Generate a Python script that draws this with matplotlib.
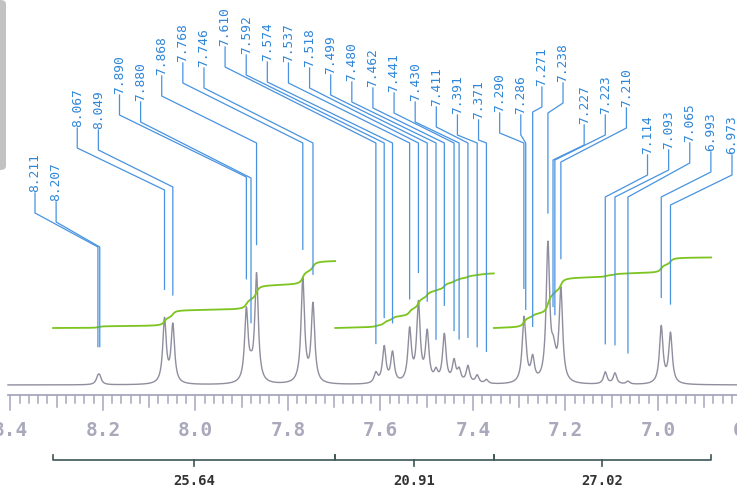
import numpy as np
import matplotlib.pyplot as plt
from matplotlib.patches import FancyBboxPatch

## Picos del espectro (ppm) y su altura aproximada
peak_ppm = [8.211, 8.207, 8.067, 8.049, 7.890, 7.880, 7.868, 7.768, 7.746,
            7.610, 7.592, 7.574, 7.537, 7.518, 7.499, 7.480, 7.462, 7.441,
            7.430, 7.411, 7.391, 7.371, 7.290, 7.286, 7.271, 7.238, 7.227,
            7.223, 7.210, 7.114, 7.093, 7.065, 6.993, 6.973]
peak_height = [6.5, 6.5, 64, 58, 72, 8, 108, 104, 78,
               10, 36, 30, 52, 78, 49, 10, 48, 21,
               12, 17, 8, 4, 60, 10, 23, 137, 18,
               10, 92, 12, 11, 3, 57, 50]

## Integrales: desde, hasta, valor
int_from = [8.308, 7.698, 7.355]
int_to = [7.698, 7.355, 6.885]
int_value = [25.64, 20.91, 27.02]

## Etiquetas del eje
tick_major = [8.4, 8.2, 8.0, 7.8, 7.6, 7.4, 7.2, 7.0, 6.8]

## Disposicion (pixeles de la imagen)
W, H = 737, 490
label_bottom = [193, 202, 128, 130, 95, 102, 76, 63, 68,
                47, 55, 62, 63, 68, 75, 82, 88, 93,
                102, 107, 115, 120, 113, 115, 87, 83, 125,
                115, 108, 155, 150, 143, 152, 155]
elbow = [247, 247, 190, 187, 177, 178, 143, 143, 143,
         143, 143, 143, 143, 143, 143, 143, 143, 143,
         143, 143, 143, 143, 143, 143, 112, 113, 160,
         160, 162, 197, 197, 197, 197, 205]


def ppm(px):
    return 8.2 + (103 - px) / 462.5


def yy(py):
    return 385 - py


gamma = 2.1 / 462.5


def spec(x):
    x = np.asarray(x, dtype=float)
    s = np.zeros_like(x)
    for p, h in zip(peak_ppm, peak_height):
        s += h / (1 + ((x - p) / gamma) ** 2)
    return s


fig = plt.figure(figsize=(W / 100, H / 100), dpi=100)
ax = fig.add_axes([0, 0, 1, 1])
ax.set_xlim(ppm(0), ppm(W))
ax.set_ylim(yy(H), yy(0))
ax.axis('off')

##Espectro
x = np.linspace(ppm(8), ppm(W), 5000)
y = spec(x)
ax.plot(x, y, color='#8e8e9e', lw=1.0)

##Eje de ppm
ax.plot([ppm(8), ppm(W)], [yy(395)] * 2, color='#a6a6be', lw=1.3)
for t in np.round(np.arange(8.40, 6.83, -0.02), 2):
    k = int(round(t * 100))
    if k % 20 == 0:
        ln = 15
    elif k % 10 == 0:
        ln = 12
    else:
        ln = 8
    ax.plot([t, t], [yy(395), yy(395 + ln)], color='#a6a6be', lw=1.1)
for t in tick_major:
    ax.text(t, yy(430), f'{t:.1f}', ha='center', va='center', fontsize=14,
            family='DejaVu Sans Mono', weight='bold', color='#a9a9bb')

##Integrales
scale = 2.61
for a, b, v in zip(int_from, int_to, int_value):
    m = (x <= a) & (x >= b)
    cum = np.cumsum(y[m])
    ax.plot(x[m], yy(328) + v * scale * cum / cum[-1], color='#7cc41e', lw=1.3)
    ax.plot([a, a, b, b], [yy(455), yy(460), yy(460), yy(455)],
            color='#3c5656', lw=1.2)
    c = (a + b) / 2
    ax.plot([c, c], [yy(460), yy(466)], color='#3c5656', lw=1.2)
    ax.text(c, yy(481), f'{v:.2f}', ha='center', va='center', fontsize=10,
            family='DejaVu Sans Mono', weight='bold', color='#333333')

##Etiquetas de picos
label_px = np.linspace(35, 732, len(peak_ppm))
for i, p in enumerate(peak_ppm):
    lx = ppm(label_px[i])
    top = spec([p])[0] + 28
    ax.plot([lx, lx, p, p],
            [yy(label_bottom[i]), yy(label_bottom[i] + 20), yy(elbow[i]), top],
            color='#4893e0', lw=0.9)
    ax.text(lx, yy(label_bottom[i] - 1), f'{p:.3f}', rotation=90,
            ha='center', va='bottom', fontsize=9.3,
            family='DejaVu Sans Mono', color='#2e86d8')

##Barra gris de la interfaz
fig.add_artist(FancyBboxPatch((-0.01, 1 - 170 / H), 6 / W + 0.01, 170 / H,
                              boxstyle='round,pad=0,rounding_size=0.008',
                              transform=fig.transFigure, color='#c2c2c2', lw=0))

plt.savefig('out.png', dpi=100)
